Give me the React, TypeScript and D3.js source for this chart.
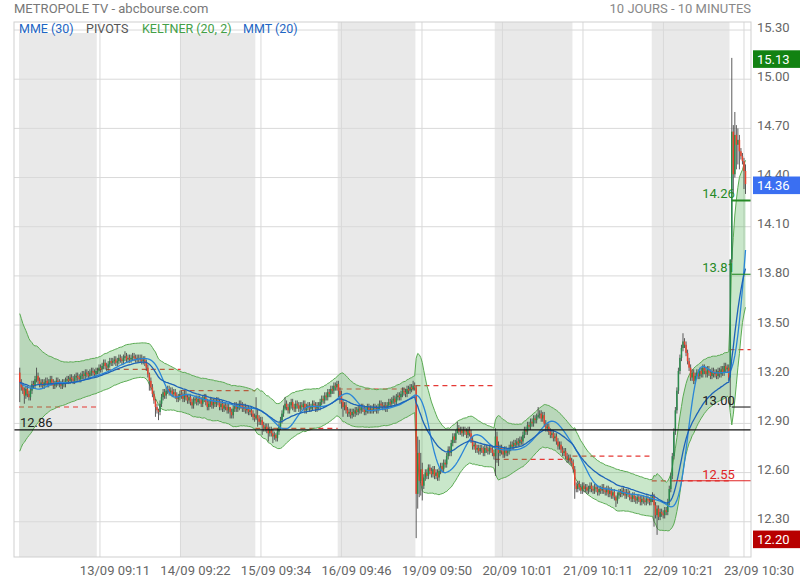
import React from "react";
import * as d3 from "d3";

// ---------- DATA ----------
const titleText = "METROPOLE TV - abcbourse.com";
const periodText = "10 JOURS - 10 MINUTES";
const legendItems = ["MME (30)", "PIVOTS", "KELTNER (20, 2)", "MMT (20)"];

const days = ["12/09", "13/09", "14/09", "15/09", "16/09", "19/09", "20/09", "21/09", "22/09", "23/09"];

const c1209 = [
  13.15, 13.12, 13.10, 13.07, 13.11, 13.08, 13.06, 13.10, 13.14, 13.13,
  13.17, 13.19, 13.16, 13.14, 13.15, 13.13, 13.15, 13.16, 13.14, 13.15,
  13.17, 13.15, 13.13, 13.14, 13.16, 13.15, 13.14, 13.13, 13.15, 13.14,
  13.16, 13.17, 13.16, 13.18, 13.17, 13.16, 13.18, 13.19, 13.18, 13.17,
  13.19, 13.20, 13.19, 13.21, 13.20, 13.19, 13.21, 13.22, 13.21, 13.20,
  13.22,
];
const c1309 = [
  13.22, 13.24, 13.23, 13.25, 13.27, 13.25, 13.24, 13.26, 13.28, 13.27,
  13.28, 13.29, 13.27, 13.28, 13.30, 13.29, 13.28, 13.30, 13.31, 13.29,
  13.30, 13.29, 13.30, 13.31, 13.30, 13.29, 13.30, 13.29, 13.30, 13.28,
  13.29, 13.27, 13.24, 13.20, 13.16, 13.12, 13.08, 13.04, 13.00, 12.98,
  12.97, 13.02, 13.06, 13.09, 13.07, 13.10, 13.11, 13.09, 13.10, 13.08,
  13.09, 13.07, 13.05, 13.06, 13.08,
];
const c1409 = [
  13.07, 13.05, 13.08, 13.06, 13.04, 13.06, 13.03, 13.01, 13.04, 13.05,
  13.03, 13.05, 13.04, 13.02, 13.05, 13.06, 13.03, 13.00, 13.02, 13.04,
  13.01, 13.03, 13.02, 13.04, 13.03, 13.00, 13.02, 12.99, 13.01, 13.00,
  12.98, 13.00, 12.97, 12.95, 12.99, 13.01, 12.99, 13.00, 13.02, 13.01,
  12.99, 13.00, 12.98, 12.99, 12.97, 12.98, 12.96, 12.94, 12.93,
];
const c1509 = [
  12.95, 12.93, 12.91, 12.92, 12.89, 12.87, 12.88, 12.86, 12.84, 12.86,
  12.84, 12.82, 12.83, 12.81, 12.85, 12.88, 12.92, 12.96, 12.99, 13.02,
  13.00, 12.98, 13.01, 13.03, 13.00, 12.99, 13.02, 13.01, 12.99, 13.01,
  13.00, 13.02, 12.98, 13.00, 13.01, 12.99, 13.00, 13.02, 13.01, 12.99,
  13.01, 13.00, 13.03, 13.05, 13.04, 13.07, 13.06, 13.09, 13.08, 13.11,
  13.10, 13.13, 13.12, 13.14,
];
const c1609 = [
  13.10, 13.07, 13.03, 13.00, 13.01, 12.98, 12.96, 12.97, 12.95, 12.97,
  12.96, 12.98, 12.97, 12.99, 12.98, 13.00, 12.99, 12.97, 12.98, 13.00,
  12.98, 12.99, 12.98, 13.00, 12.99, 12.98, 13.00, 13.02, 13.01, 13.00,
  13.01, 12.99, 13.01, 13.03, 13.02, 13.04, 13.05, 13.03, 13.06, 13.07,
  13.06, 13.08, 13.10, 13.09, 13.08, 13.11, 13.10, 13.12, 13.11, 13.13,
  13.12,
];
const c1909 = [
  12.47, 12.72, 12.55, 12.62, 12.52, 12.57, 12.60, 12.58, 12.63, 12.61,
  12.59, 12.62, 12.58, 12.60, 12.57, 12.61, 12.64, 12.62, 12.66, 12.65,
  12.70, 12.74, 12.72, 12.78, 12.82, 12.80, 12.84, 12.87, 12.85, 12.86,
  12.84, 12.86, 12.85, 12.83, 12.86, 12.84, 12.80, 12.76, 12.77, 12.74,
  12.75, 12.73, 12.75, 12.74, 12.72, 12.75, 12.74, 12.73, 12.75, 12.74,
  12.72, 12.70,
];
const c2009 = [
  12.82, 12.74, 12.72, 12.75, 12.73, 12.71, 12.74, 12.72, 12.73, 12.75,
  12.77, 12.76, 12.78, 12.77, 12.79, 12.78, 12.80, 12.79, 12.83, 12.86,
  12.85, 12.89, 12.88, 12.91, 12.90, 12.93, 12.92, 12.94, 12.95, 12.96,
  12.93, 12.95, 12.90, 12.87, 12.88, 12.85, 12.83, 12.84, 12.81, 12.82,
  12.79, 12.76, 12.77, 12.74, 12.72, 12.73, 12.70, 12.68, 12.69, 12.67,
  12.66,
];
const c2109 = [
  12.62, 12.52, 12.50, 12.53, 12.51, 12.49, 12.52, 12.50, 12.51, 12.49,
  12.50, 12.52, 12.50, 12.49, 12.51, 12.50, 12.48, 12.50, 12.49, 12.51,
  12.49, 12.48, 12.50, 12.47, 12.49, 12.46, 12.48, 12.45, 12.43, 12.46,
  12.48, 12.47, 12.49, 12.48, 12.46, 12.48, 12.47, 12.45, 12.44, 12.46,
  12.44, 12.43, 12.45, 12.44, 12.42, 12.44, 12.43, 12.42, 12.44, 12.43,
  12.42, 12.44,
];
const c2209 = [
  12.46, 12.40, 12.34, 12.38, 12.33, 12.36, 12.35, 12.34, 12.37, 12.36,
  12.42, 12.50, 12.58, 12.70, 12.85, 12.98, 13.10, 13.22, 13.30, 13.36,
  13.40, 13.38, 13.33, 13.28, 13.24, 13.18, 13.21, 13.16, 13.19, 13.21,
  13.19, 13.22, 13.20, 13.24, 13.22, 13.20, 13.23, 13.21, 13.19, 13.22,
  13.20, 13.21, 13.19, 13.22, 13.20, 13.23, 13.21, 13.25, 13.23, 13.24,
  13.18,
];
const c2309 = [13.90, 14.68, 14.42, 14.66, 14.60, 14.63, 14.56, 14.53, 14.50, 14.44, 14.36];

const firstOpen = 13.21;
const defaultWick = 0.02;
// [day, bar of the day, high, low]
const extremes: [string, number, number, number][] = [
  ["12/09", 0, 13.24, 13.03],
  ["12/09", 3, 13.12, 13.02],
  ["12/09", 11, 13.24, 13.15],
  ["13/09", 18, 13.34, 13.28],
  ["13/09", 34, 13.21, 13.1],
  ["13/09", 38, 13.05, 12.94],
  ["13/09", 40, 12.99, 12.92],
  ["14/09", 32, 13.0, 12.93],
  ["15/09", 0, 13.06, 12.92],
  ["15/09", 1, 12.99, 12.88],
  ["15/09", 4, 12.94, 12.83],
  ["15/09", 8, 12.9, 12.79],
  ["15/09", 11, 12.87, 12.78],
  ["15/09", 13, 12.84, 12.79],
  ["15/09", 19, 13.06, 12.98],
  ["16/09", 0, 13.16, 13.06],
  ["16/09", 1, 13.12, 13.02],
  ["16/09", 2, 13.1, 12.99],
  ["16/09", 3, 13.05, 12.94],
  ["16/09", 49, 13.16, 13.1],
  ["19/09", 0, 13.13, 12.2],
  ["19/09", 1, 12.82, 12.38],
  ["19/09", 2, 12.8, 12.45],
  ["19/09", 3, 12.72, 12.46],
  ["19/09", 4, 12.66, 12.43],
  ["19/09", 27, 12.91, 12.84],
  ["20/09", 0, 12.87, 12.58],
  ["20/09", 1, 12.85, 12.66],
  ["20/09", 2, 12.79, 12.64],
  ["20/09", 28, 13.0, 12.93],
  ["21/09", 1, 12.64, 12.44],
  ["21/09", 28, 12.46, 12.39],
  ["22/09", 1, 12.47, 12.27],
  ["22/09", 3, 12.4, 12.22],
  ["22/09", 20, 13.45, 13.34],
  ["23/09", 0, 13.9, 13.0],
  ["23/09", 1, 15.13, 13.88],
  ["23/09", 2, 14.72, 14.3],
  ["23/09", 3, 14.8, 14.4],
  ["23/09", 4, 14.72, 14.45],
  ["23/09", 5, 14.7, 14.48],
  ["23/09", 6, 14.66, 14.45],
  ["23/09", 9, 14.52, 14.33],
  ["23/09", 10, 14.48, 14.3],
];

const priceTicks = [12.3, 12.6, 12.9, 13.2, 13.5, 13.8, 14.1, 14.4, 14.7, 15.0, 15.3];
const timeTickBars = [52.6, 105.4, 158.2, 211, 263.8, 316.6, 369.4, 422.2, 475];
const timeTickLabels = [
  "13/09 09:11", "14/09 09:22", "15/09 09:34", "16/09 09:46", "19/09 09:50",
  "20/09 10:01", "21/09 10:11", "22/09 10:21", "23/09 10:30",
];
// red dashed reference level of each day
const dayLevels = [13.0, 13.23, 13.1, 12.87, 13.11, 13.13, 12.68, 12.7, 12.55, 13.35];
// current pivots, and the bar of 22/09 where the support line starts
const pivotValues = [14.26, 13.81, 13.0, 12.55];
const pivotKinds = ["R2", "R1", "P", "S1"];
const supportStartBar = 14;
const refLevel = 12.86;

// ---------- BUILD ----------
const closesByDay = [c1209, c1309, c1409, c1509, c1609, c1909, c2009, c2109, c2209, c2309];

type Bar = { i: number; o: number; h: number; l: number; c: number; day: number };
const bars: Bar[] = [];
const dayRanges: { start: number; end: number }[] = [];
{
  let prev = firstOpen;
  let idx = 0;
  closesByDay.forEach((arr, di) => {
    const start = idx;
    arr.forEach((c, k) => {
      const o = prev;
      let h = Math.max(o, c) + defaultWick;
      let l = Math.min(o, c) - defaultWick;
      const ex = extremes.find((e) => e[0] === days[di] && e[1] === k);
      if (ex) {
        h = Math.max(ex[2], Math.max(o, c));
        l = Math.min(ex[3], Math.min(o, c));
      }
      bars.push({ i: idx, o, h, l, c, day: di });
      prev = c;
      idx++;
    });
    dayRanges.push({ start, end: idx - 1 });
  });
}
const N = bars.length;
const closes = bars.map((b) => b.c);

function ema(arr: number[], n: number) {
  const a = 2 / (n + 1);
  const out: number[] = [];
  arr.forEach((v, i) => out.push(i === 0 ? v : out[i - 1] + a * (v - out[i - 1])));
  return out;
}
function sma(arr: number[], n: number) {
  return arr.map((_, i) => {
    const s = Math.max(0, i - n + 1);
    return d3.mean(arr.slice(s, i + 1)) as number;
  });
}
const tr = bars.map((b, i) =>
  i === 0 ? b.h - b.l : Math.max(b.h - b.l, Math.abs(b.h - bars[i - 1].c), Math.abs(b.l - bars[i - 1].c))
);
const kMid = ema(closes, 20);
const atr = ema(tr, 20);
const kUp = kMid.map((m, i) => m + 2 * atr[i]);
const kLo = kMid.map((m, i) => m - 2 * atr[i]);
const mme30 = ema(closes, 30);
const mmt20 = sma(sma(closes, 10), 11);

const periodHigh = d3.max(bars, (b) => b.h) as number;
const periodLow = d3.min(bars, (b) => b.l) as number;
const lastClose = closes[N - 1];

// ---------- CHART ----------
const F = "Roboto, 'Noto Sans', Arial, sans-serif";
const col = {
  band: "#e9e9e9",
  grid: "#d9d9d9",
  up: "#2a8a4c",
  down: "#e8432f",
  wick: "#4a4a4a",
  kFill: "#4caf50",
  kLine: "#5aab52",
  mme: "#1d63b8",
  mmt: "#2a86d8",
  dashRed: "#e53935",
  axis: "#666",
};

export default function App() {
  const L = 14, R = 751, T = 22, B = 557;
  const x = d3.scaleLinear().domain([-3.78, N + 2.6]).range([L, R]);
  const y = d3.scaleLinear().domain([12.085, 15.349]).range([B, T]);
  const step = x(1) - x(0);

  const lineGen = (vals: number[]) =>
    d3.line<number>().x((_, i) => x(i)).y((v) => y(v))(vals) || "";
  const areaPath =
    d3
      .area<number>()
      .x((_, i) => x(i))
      .y0((_, i) => y(kLo[i]))
      .y1((_, i) => y(kUp[i]))(kMid) || "";

  const pivotColor = (k: string) => (k === "P" ? "#222" : k === "S1" ? "#e02424" : "#268a26");
  const lastDay = dayRanges[dayRanges.length - 1];
  const prevDay = dayRanges[dayRanges.length - 2];

  return (
    <svg
      width={800}
      height={580}
      style={{ position: "absolute", left: 0, top: 0, background: "#fff" }}
      fontFamily={F}
    >
      <defs>
        <clipPath id="plot">
          <rect x={L} y={T} width={R - L} height={B - T} />
        </clipPath>
      </defs>
      <rect x={0} y={0} width={800} height={580} fill="#fff" />

      {/* day bands */}
      {dayRanges.map((d, di) =>
        di % 2 === 0 ? (
          <rect
            key={"b" + di}
            x={x(d.start - 0.5)}
            y={T}
            width={x(d.end + 0.5) - x(d.start - 0.5)}
            height={B - T}
            fill={col.band}
          />
        ) : null
      )}
      {/* legend background */}
      <rect x={L} y={T} width={322} height={11} fill="#fff" />

      {/* grid */}
      {priceTicks.map((p) => (
        <line key={"gy" + p} x1={L} x2={R} y1={y(p)} y2={y(p)} stroke={col.grid} strokeWidth={1} />
      ))}
      {timeTickBars.map((t) => (
        <line key={"gx" + t} x1={x(t)} x2={x(t)} y1={T} y2={B} stroke={col.grid} strokeWidth={1} />
      ))}

      <g clipPath="url(#plot)">
        {/* daily dashed levels */}
        {dayRanges.map((d, di) => (
          <line
            key={"dl" + di}
            x1={x(d.start - 0.5)}
            x2={di === dayRanges.length - 1 ? R : x(d.end + 0.5)}
            y1={y(dayLevels[di])}
            y2={y(dayLevels[di])}
            stroke={col.dashRed}
            strokeWidth={1.2}
            strokeDasharray="5,4"
          />
        ))}

        {/* Keltner */}
        <path d={areaPath} fill={col.kFill} fillOpacity={0.3} />
        <path d={lineGen(kUp)} fill="none" stroke={col.kLine} strokeWidth={1} />
        <path d={lineGen(kLo)} fill="none" stroke={col.kLine} strokeWidth={1} />

        {/* candles */}
        {bars.map((b) => (
          <line key={"w" + b.i} x1={x(b.i)} x2={x(b.i)} y1={y(b.h)} y2={y(b.l)} stroke={col.wick} strokeWidth={0.9} />
        ))}
        {bars.map((b) => {
          const top = y(Math.max(b.o, b.c));
          const h = Math.max(1.2, Math.abs(y(b.o) - y(b.c)));
          return (
            <rect
              key={"c" + b.i}
              x={x(b.i) - step * 0.5}
              y={top}
              width={step}
              height={h}
              fill={b.c >= b.o ? col.up : col.down}
            />
          );
        })}

        {/* moving averages */}
        <path d={lineGen(mmt20)} fill="none" stroke={col.mmt} strokeWidth={1.3} />
        <path d={lineGen(mme30)} fill="none" stroke={col.mme} strokeWidth={1.3} />

        {/* reference level */}
        <line x1={L} x2={R} y1={y(refLevel)} y2={y(refLevel)} stroke="#111" strokeWidth={1.3} />
      </g>
      <text x={L + 6} y={y(refLevel) - 2.5} fontSize={13} fill="#222">
        {refLevel.toFixed(2)}
      </text>

      {/* pivots of the current day */}
      {pivotValues.map((v, k) => (
        <g key={"pv" + k}>
          <line
            x1={pivotKinds[k] === "S1" ? x(prevDay.start + supportStartBar) : x(lastDay.start + 1)}
            x2={R}
            y1={y(v)}
            y2={y(v)}
            stroke={pivotColor(pivotKinds[k])}
            strokeWidth={pivotKinds[k] === "R2" ? 2 : 1.1}
          />
          <text x={x(lastDay.start + 3)} y={y(v) - 2} fontSize={13} textAnchor="end" fill={pivotColor(pivotKinds[k])}>
            {v.toFixed(2)}
          </text>
        </g>
      ))}

      {/* frame */}
      <rect x={L} y={T} width={R - L} height={B - T} fill="none" stroke="#cfcfcf" strokeWidth={1} />

      {/* y axis labels */}
      {priceTicks.map((p) => (
        <text key={"yl" + p} x={757} y={y(p) + 1.5} fontSize={13} fill={col.axis}>
          {p.toFixed(2)}
        </text>
      ))}
      {/* x axis labels */}
      {timeTickBars.map((t, k) => (
        <text key={"xl" + t} x={x(t) + 15} y={574.5} fontSize={13} fill={col.axis} textAnchor="middle">
          {timeTickLabels[k]}
        </text>
      ))}

      {/* price boxes */}
      {[
        { v: periodHigh, fill: "#128212" },
        { v: lastClose, fill: "#3a6ff2" },
        { v: periodLow, fill: "#b80000" },
      ].map((bx, k) => (
        <g key={"bx" + k}>
          <rect x={753} y={y(bx.v) - 7.6} width={47} height={17.6} fill={bx.fill} />
          <text x={757} y={y(bx.v) + 5.8} fontSize={13} fill="#fff">
            {bx.v.toFixed(2)}
          </text>
        </g>
      ))}

      {/* titles */}
      <text x={14} y={13} fontSize={13} fill="#777">
        {titleText}
      </text>
      <text x={751} y={13} fontSize={13} fill="#888" textAnchor="end">
        {periodText}
      </text>

      {/* legend */}
      <text y={33} fontSize={12.5}>
        <tspan x={19} fill="#1e66c4">{legendItems[0]}</tspan>
        <tspan x={86} fill="#555">{legendItems[1]}</tspan>
        <tspan x={142} fill="#43a047">{legendItems[2]}</tspan>
        <tspan x={243} fill="#1e66c4">{legendItems[3]}</tspan>
      </text>
    </svg>
  );
}
